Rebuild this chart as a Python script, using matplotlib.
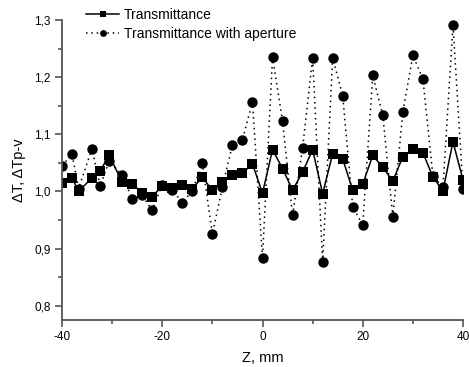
import matplotlib
matplotlib.use("Agg")
import matplotlib.pyplot as plt
from matplotlib.ticker import MultipleLocator, FuncFormatter

z = [-40, -38, -36.7, -34, -32.4, -30.6, -28, -26, -24, -22, -20, -18, -16, -14, -12, -10,
     -8, -6, -4, -2, 0, 2, 4, 6, 8, 10, 12, 14, 16, 18, 20, 22, 24, 26, 28, 30, 32, 34, 36, 38, 40]
transmittance = [1.015, 1.024, 1.000, 1.024, 1.035, 1.064, 1.016, 1.013, 0.998, 0.991, 1.010,
                 1.006, 1.012, 1.005, 1.025, 1.002, 1.016, 1.028, 1.032, 1.048, 0.997, 1.073,
                 1.040, 1.002, 1.034, 1.073, 0.996, 1.066, 1.057, 1.002, 1.013, 1.063, 1.042,
                 1.018, 1.061, 1.074, 1.068, 1.025, 1.001, 1.087, 1.020]
transmittance_ap = [1.045, 1.065, 1.005, 1.075, 1.009, 1.053, 1.028, 0.987, 0.993, 0.967, 1.012,
                    1.003, 0.980, 1.001, 1.050, 0.925, 1.008, 1.081, 1.090, 1.157, 0.883, 1.235,
                    1.123, 0.958, 1.076, 1.234, 0.876, 1.234, 1.167, 0.973, 0.941, 1.203, 1.133,
                    0.956, 1.139, 1.238, 1.197, 1.027, 1.007, 1.291, 1.005]

x_label = "Z, mm"
y_label = "\u0394T, \u0394Tp-v"
legend_labels = ["Transmittance", "Transmittance with aperture"]

plt.rcParams['font.family'] = ['Liberation Sans', 'DejaVu Sans']

fig = plt.figure(figsize=(4.69, 3.67), dpi=100)
ax = fig.add_axes([62/469, 1 - 320/367, (463-62)/469, (320-20)/367])

l1, = ax.plot(z, transmittance, '-', color='black', lw=1.1, marker='s', ms=6.5,
              markeredgewidth=0, label=legend_labels[0])
l2, = ax.plot(z, transmittance_ap, linestyle=(0, (1, 2.5)), color='black', lw=1.1,
              marker='o', ms=7.5, markeredgewidth=0, label=legend_labels[1])

ax.set_xlim(-40, 40)
ax.set_ylim(0.775, 1.3)
ax.xaxis.set_major_locator(MultipleLocator(20))
ax.xaxis.set_minor_locator(MultipleLocator(10))
ax.yaxis.set_major_locator(MultipleLocator(0.1))
ax.yaxis.set_minor_locator(MultipleLocator(0.05))
ax.yaxis.set_major_formatter(FuncFormatter(lambda v, p: f"{v:.1f}".replace('.', ',')))
ax.xaxis.set_major_formatter(FuncFormatter(lambda v, p: f"{v:.0f}"))

for s in ['top', 'right']:
    ax.spines[s].set_visible(False)
for s in ['left', 'bottom']:
    ax.spines[s].set_color('#555555')
    ax.spines[s].set_linewidth(1.3)
ax.spines['left'].set_bounds(0.775, 1.3)

ax.tick_params(which='major', direction='out', length=5, width=1.2, color='#555555',
               labelsize=8.5, pad=3)
ax.tick_params(which='minor', direction='out', length=3, width=1.2, color='#555555')

ax.set_xlabel(x_label, fontsize=10.5, labelpad=6)
ax.set_ylabel(y_label, fontsize=10.5, labelpad=6)

leg = fig.legend(handles=[l1, l2], loc='upper left', bbox_to_anchor=(86/469, 1 - 8/367),
                 frameon=False, fontsize=10, handlelength=2.4, handletextpad=0.3,
                 labelspacing=0.35, markerscale=0.65, borderaxespad=0, borderpad=0)

fig.savefig("out.png", dpi=100)
